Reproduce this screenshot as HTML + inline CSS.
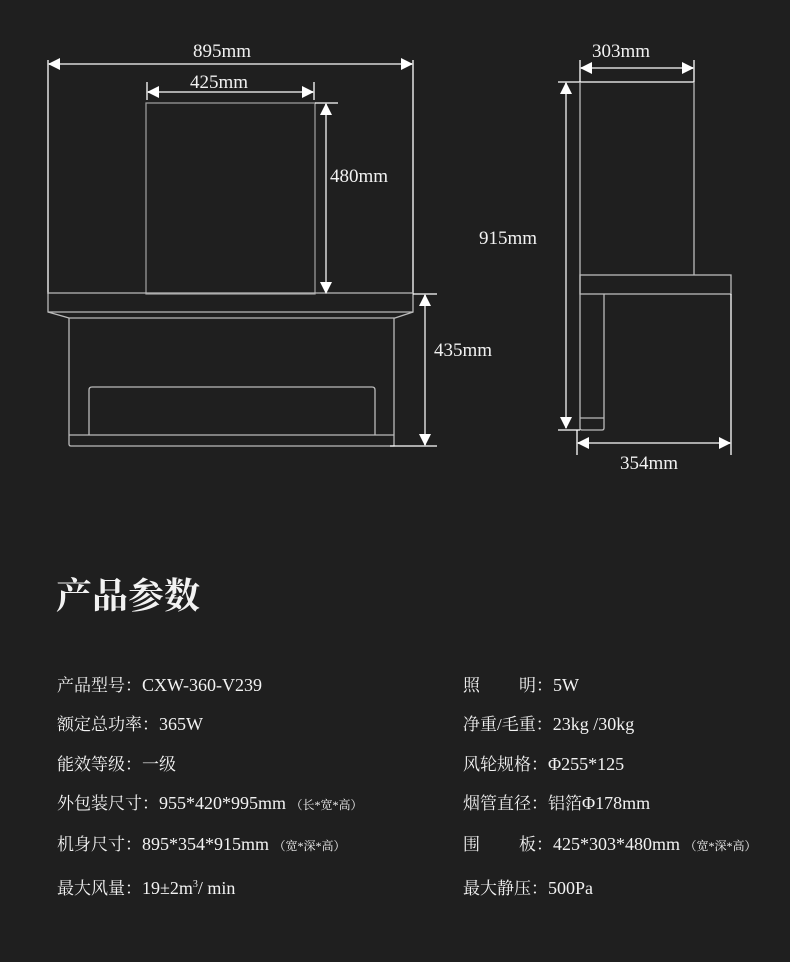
<!DOCTYPE html>
<html><head><meta charset="utf-8"><style>
html,body{margin:0;padding:0;background:#1f1f1f;width:790px;height:962px;overflow:hidden}
svg{position:absolute;left:0;top:0}
.t{font-family:"Liberation Serif","Noto Serif CJK SC",serif;fill:#f2f2f2}
.L{font-size:18px}
</style></head><body>
<svg width="790" height="962" viewBox="0 0 790 962">
<defs>
<marker id="a" markerWidth="12" markerHeight="12" refX="11" refY="6" orient="auto-start-reverse" markerUnits="userSpaceOnUse"><path d="M0,0 L12,6 L0,12 z" fill="#fff"/></marker>
</defs>
<g stroke="#bbb" stroke-width="1.3" fill="none">
<line x1="48" y1="60" x2="48" y2="294" stroke="#fff"/>
<line x1="413" y1="60" x2="413" y2="294" stroke="#fff"/>
<line x1="147" y1="82" x2="147" y2="100" stroke="#fff"/>
<line x1="314" y1="82" x2="314" y2="100" stroke="#fff"/>
<rect x="146" y="103" width="169" height="191" stroke="#999"/>
<line x1="315" y1="103" x2="338" y2="103" stroke="#fff"/>
<path d="M48 293 H413 V312 L395 318 H69 L48 312 Z"/>
<line x1="48" y1="312" x2="413" y2="312"/>
<path d="M69 318 V444 Q69 446 71 446 H394 V318"/>
<path d="M89 435 V390 Q89 387 92 387 H372 Q375 387 375 390 V435"/>
<line x1="69" y1="435" x2="394" y2="435"/>
<line x1="413" y1="294" x2="437" y2="294" stroke="#fff"/>
<line x1="390" y1="446" x2="437" y2="446" stroke="#fff"/>
<line x1="580" y1="60" x2="580" y2="82" stroke="#fff"/>
<line x1="694" y1="60" x2="694" y2="82" stroke="#fff"/>
<line x1="558" y1="82" x2="694" y2="82" stroke="#fff"/>
<line x1="580" y1="82" x2="580" y2="294"/>
<line x1="694" y1="82" x2="694" y2="275"/>
<rect x="580" y="275" width="151" height="19"/>
<line x1="731" y1="294" x2="731" y2="455" stroke="#fff"/>
<path d="M580 294 V428 Q580 430 582 430 H602 Q604 430 604 428 V294"/>
<line x1="580" y1="418" x2="604" y2="418"/>
<line x1="558" y1="430" x2="580" y2="430" stroke="#fff"/>
<line x1="577" y1="430" x2="577" y2="455" stroke="#fff"/>
</g>
<g stroke="#aaa" stroke-width="2" fill="none">
<line x1="49" y1="64" x2="412" y2="64" marker-start="url(#a)" marker-end="url(#a)"/>
<line x1="148" y1="92" x2="313" y2="92" marker-start="url(#a)" marker-end="url(#a)"/>
<line x1="326" y1="104" x2="326" y2="293" marker-start="url(#a)" marker-end="url(#a)"/>
<line x1="425" y1="295" x2="425" y2="445" marker-start="url(#a)" marker-end="url(#a)"/>
<line x1="581" y1="68" x2="693" y2="68" marker-start="url(#a)" marker-end="url(#a)"/>
<line x1="566" y1="83" x2="566" y2="428" marker-start="url(#a)" marker-end="url(#a)"/>
<line x1="578" y1="443" x2="730" y2="443" marker-start="url(#a)" marker-end="url(#a)"/>
</g>
<g class="t" font-size="19">
<text x="222" y="57" text-anchor="middle">895mm</text>
<text x="219" y="88" text-anchor="middle">425mm</text>
<text x="330" y="182">480mm</text>
<text x="434" y="356">435mm</text>
<text x="621" y="57" text-anchor="middle">303mm</text>
<text x="479" y="244">915mm</text>
<text x="649" y="469" text-anchor="middle">354mm</text>
</g>
<text class="t" x="56" y="608" font-size="36" font-weight="bold">产品参数</text>
<g class="t" font-size="17">
<text x="57" y="691">产品型号：<tspan class="L">CXW-360-V239</tspan></text>
<text x="57" y="730">额定总功率：<tspan class="L">365W</tspan></text>
<text x="57" y="770">能效等级：一级</text>
<text x="57" y="809">外包装尺寸：<tspan class="L">955*420*995mm </tspan><tspan font-size="12">（长*宽*高）</tspan></text>
<text x="57" y="850">机身尺寸：<tspan class="L">895*354*915mm </tspan><tspan font-size="12">（宽*深*高）</tspan></text>
<text x="57" y="894">最大风量：<tspan class="L">19±2m</tspan><tspan font-size="10" dy="-7">3</tspan><tspan class="L" dy="7">/ min</tspan></text>
<text x="463" y="691">照<tspan x="519">明：</tspan><tspan class="L">5W</tspan></text>
<text x="463" y="730">净重/毛重：<tspan class="L">23kg /30kg</tspan></text>
<text x="463" y="770">风轮规格：<tspan class="L">Φ255*125</tspan></text>
<text x="463" y="809">烟管直径：铝箔<tspan class="L">Φ178mm</tspan></text>
<text x="463" y="850">围<tspan x="519">板：</tspan><tspan class="L">425*303*480mm </tspan><tspan font-size="12">（宽*深*高）</tspan></text>
<text x="463" y="894">最大静压：<tspan class="L">500Pa</tspan></text>
</g>
</svg>
</body></html>
